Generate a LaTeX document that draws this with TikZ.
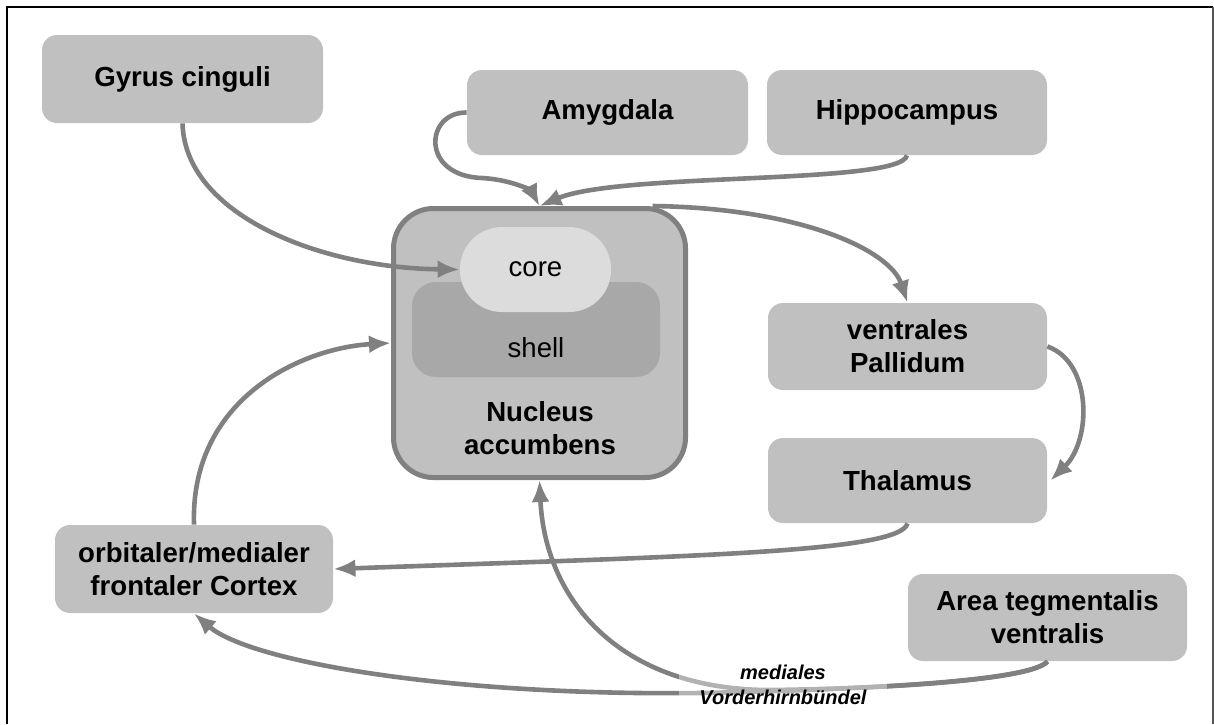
\documentclass[tikz,border=0pt]{standalone}
\usepackage{fontspec}
\setmainfont{Liberation Sans}
\usetikzlibrary{arrows.meta,calc}
\definecolor{boxgray}{HTML}{C0C0C0}
\definecolor{arrgray}{HTML}{808080}
\definecolor{coregray}{HTML}{DCDCDC}
\definecolor{shellgray}{HTML}{A8A8A8}
\definecolor{framegray}{HTML}{555555}
\tikzset{
  region/.style={fill=boxgray, rounded corners=7.5pt, align=center, inner sep=0pt,
    minimum width=140pt, minimum height=43pt,
    font=\fontsize{13.8}{16.5}\selectfont\bfseries},
  conn/.style={draw=arrgray, line width=2.3pt, -{Latex[length=11pt,width=9pt]}},
}
\begin{document}
\begin{tikzpicture}[x=0.5pt,y=-0.5pt]
\useasboundingbox (0,0) rectangle (1214,724);
\draw[black, line width=1pt] (6.5,724) -- (6.5,6.5) -- (1213,6.5);
\draw[framegray, line width=1pt] (1213,6.5) -- (1213,724);

% nodes
\node[region, minimum width=140.5pt, minimum height=44pt] (gyrus) at (182.5,79) {Gyrus cinguli};
\node[region, minimum width=140.5pt, minimum height=42.5pt] (amyg) at (607.5,112.5) {Amygdala};
\node[region, minimum width=140pt, minimum height=42.5pt] (hippo) at (907,112.5) {Hippocampus};
\node[region, minimum width=139.5pt, minimum height=43.5pt] (pall) at (907.5,346.5) {ventrales\\Pallidum};
\node[region, minimum width=139.5pt, minimum height=42.5pt] (thal) at (907.5,480.5) {Thalamus};
\node[region, minimum width=139pt, minimum height=44pt] (ofc) at (194,569) {orbitaler/medialer\\frontaler Cortex};
\node[region, minimum width=139.5pt, minimum height=43.5pt] (vta) at (1047.5,617.5) {Area tegmentalis\\ventralis};

\node[draw=arrgray, line width=2.5pt, fill=boxgray, rounded corners=20pt,
  minimum width=146pt, minimum height=134.5pt, inner sep=0pt] (nacc) at (539.5,343) {};
\node[fill=shellgray, rounded corners=12pt, minimum width=124pt, minimum height=47.5pt, inner sep=0pt] (shell) at (536,329.5) {};
\node[font=\fontsize{13.8}{16.5}\selectfont, inner sep=0pt] (shelltxt) at (536,348) {shell};
\node[fill=coregray, rounded corners=21pt, minimum width=75.5pt, minimum height=42.5pt, inner sep=0pt,
  font=\fontsize{13.8}{16.5}\selectfont] (core) at (535.5,269.5) {core};
\node[align=center, inner sep=0pt, font=\fontsize{13.8}{16.5}\selectfont\bfseries] (nacctxt) at (540,428) {Nucleus\\accumbens};

% connectors
\draw[conn] (gyrus.south) .. controls (185,215) and (320,268) .. (core.west);
\draw[conn] (amyg.west) .. controls (425,112) and (420,176) .. (482,178) .. controls (515,180) and (532,192) .. (nacc.north);
\draw[conn] (hippo.south) .. controls (900,185) and (620,172) .. (nacc.north);
\draw[conn] ([xshift=56.5pt]nacc.north) .. controls (800,208) and (890,250) .. (pall.north);
\draw[conn] (pall.east) .. controls (1092,362) and (1092,440) .. ([xshift=1.5pt]thal.east);
\draw[conn] (thal.south) .. controls (900,552) and (700,556) .. (ofc.east);
\draw[conn] (ofc.north) .. controls (190,400) and (300,348) .. (nacc.west);
\draw[conn] (vta.south) .. controls (1030,682) and (850,690) .. (700,693) .. controls (450,696) and (250,662) .. (ofc.south);
\draw[conn] (vta.south) .. controls (1030,682) and (860,689) .. (770,690) .. controls (620,690) and (545,600) .. (nacc.south);

\node[fill=white, fill opacity=0.4, text opacity=1, align=center, inner sep=0pt,
  minimum width=104pt, minimum height=26pt,
  font=\fontsize{10}{12.5}\selectfont\bfseries\itshape] (mfb) at (783,685) {mediales\\Vorderhirnbündel};
\end{tikzpicture}
\end{document}
